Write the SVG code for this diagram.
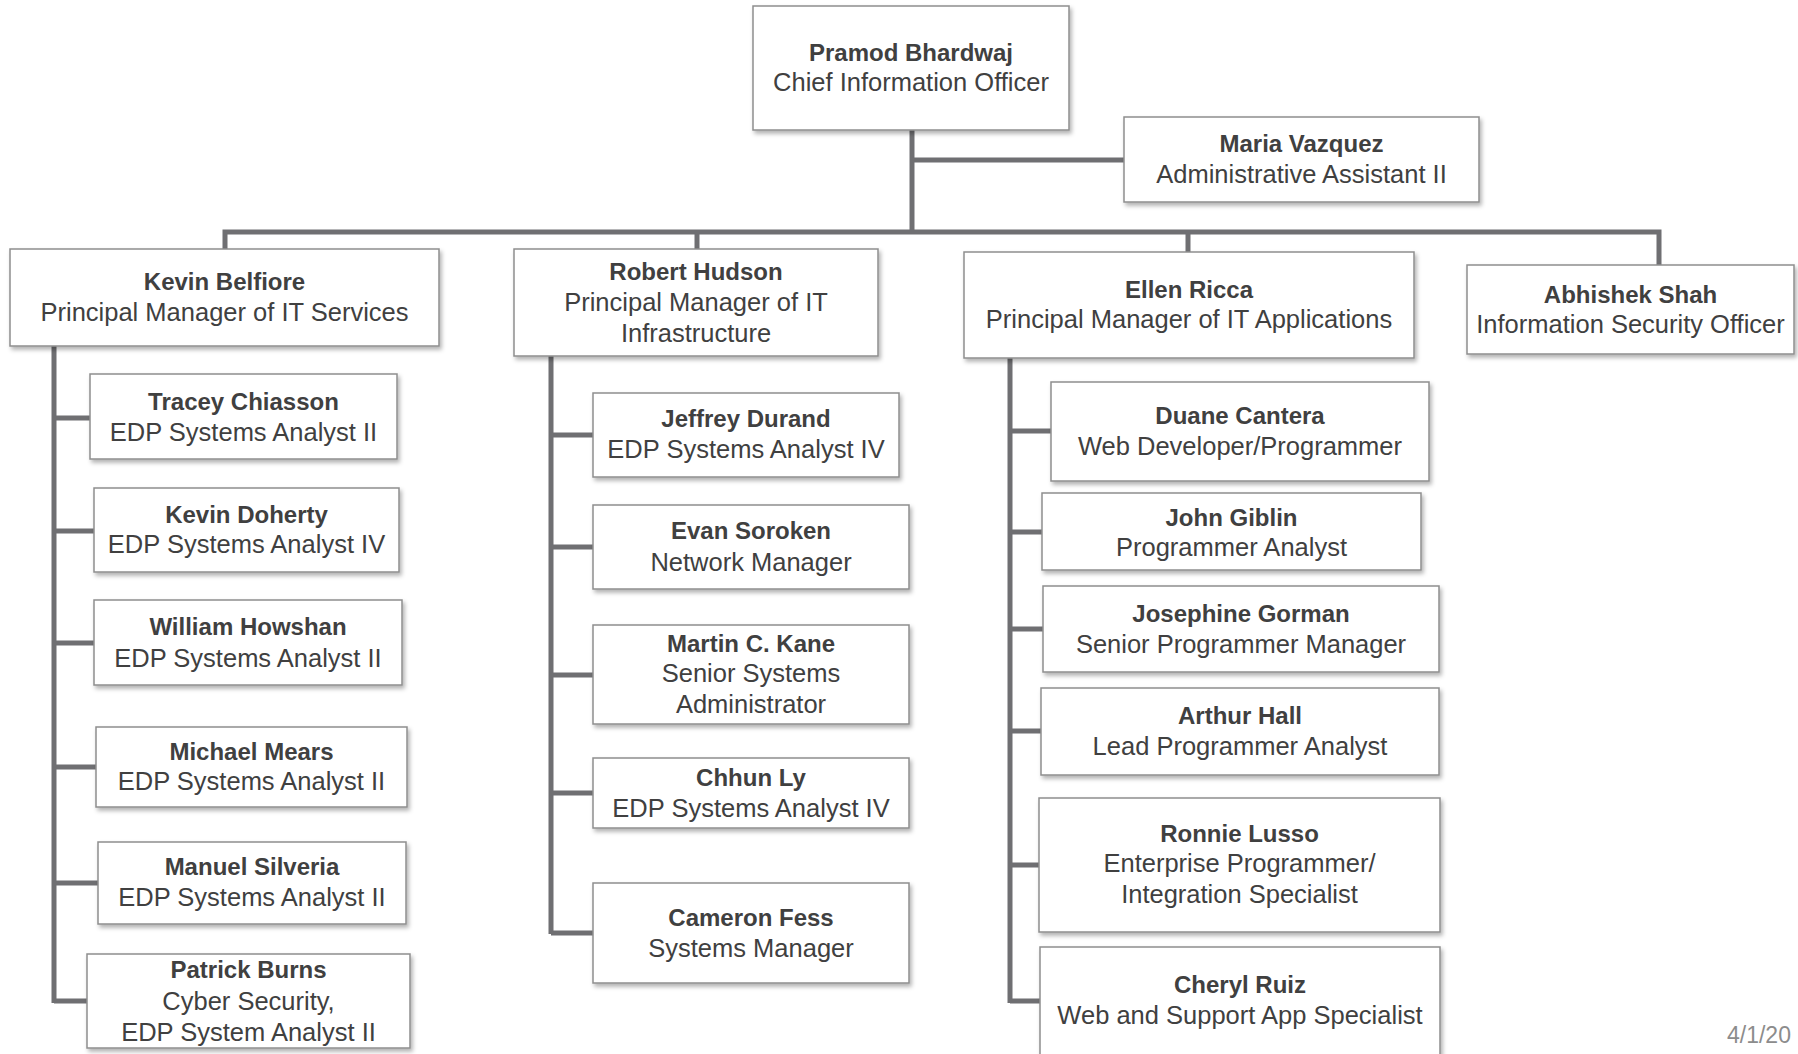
<svg xmlns="http://www.w3.org/2000/svg" width="1798" height="1054" viewBox="0 0 1798 1054">
<style>
.box{fill:#ffffff;stroke:#8e8e8e;stroke-width:1.5;filter:url(#sh)}
.t{font-family:"Liberation Sans",Arial,sans-serif;font-size:25.5px;fill:#404040;text-anchor:middle}
.n{font-weight:bold;font-size:24px}
.c{fill:none;stroke:#6f6f72;stroke-width:5;stroke-linejoin:miter;stroke-linecap:butt}
.d{font-family:"Liberation Sans",Arial,sans-serif;font-size:23px;fill:#8c8c8c}
</style>
<defs>
<filter id="sh" x="-5%" y="-10%" width="115%" height="130%">
<feDropShadow dx="2" dy="3" stdDeviation="2" flood-color="#000" flood-opacity="0.3"/>
</filter>
</defs>
<rect width="1798" height="1054" fill="#ffffff"/>
<g id="connectors">
<path class="c" d="M912,130 V234"/>
<path class="c" d="M912,160 H1124"/>
<path class="c" d="M225,249 V232 H1659 V265"/>
<path class="c" d="M697,232 V249"/>
<path class="c" d="M1188,232 V252"/>
<path class="c" d="M54,346 V1003"/>
<path class="c" d="M54,418 H90 M54,531 H94 M54,643 H94 M54,767 H96 M54,883 H98 M54,1001 H87"/>
<path class="c" d="M551,356 V934"/>
<path class="c" d="M551,435 H593 M551,547 H593 M551,675 H593 M551,793 H593 M551,933 H593"/>
<path class="c" d="M1010,358 V1003"/>
<path class="c" d="M1010,431 H1051 M1010,532 H1042 M1010,629 H1043 M1010,731 H1041 M1010,865 H1039 M1010,1001 H1040"/>
</g>
<g id="cio"><rect class="box" x="753" y="6" width="316" height="124"/><text class="t n" x="911" y="61">Pramod Bhardwaj</text><text class="t" x="911" y="91">Chief Information Officer</text></g>
<g id="maria"><rect class="box" x="1124" y="117" width="355" height="85"/><text class="t n" x="1301.5" y="152">Maria Vazquez</text><text class="t" x="1301.5" y="183">Administrative Assistant II</text></g>
<g id="belfiore"><rect class="box" x="10" y="249" width="429" height="97"/><text class="t n" x="224.5" y="290">Kevin Belfiore</text><text class="t" x="224.5" y="321">Principal Manager of IT Services</text></g>
<g id="hudson"><rect class="box" x="514" y="249" width="364" height="107"/><text class="t n" x="696" y="280">Robert Hudson</text><text class="t" x="696" y="311">Principal Manager of IT</text><text class="t" x="696" y="342">Infrastructure</text></g>
<g id="ricca"><rect class="box" x="964" y="252" width="450" height="106"/><text class="t n" x="1189" y="298">Ellen Ricca</text><text class="t" x="1189" y="328">Principal Manager of IT Applications</text></g>
<g id="shah"><rect class="box" x="1467" y="265" width="327" height="89"/><text class="t n" x="1630.5" y="303">Abhishek Shah</text><text class="t" x="1630.5" y="333">Information Security Officer</text></g>
<g id="chiasson"><rect class="box" x="90" y="374" width="307" height="85"/><text class="t n" x="243.5" y="410">Tracey Chiasson</text><text class="t" x="243.5" y="441">EDP Systems Analyst II</text></g>
<g id="doherty"><rect class="box" x="94" y="488" width="305" height="84"/><text class="t n" x="246.5" y="523">Kevin Doherty</text><text class="t" x="246.5" y="553">EDP Systems Analyst IV</text></g>
<g id="howshan"><rect class="box" x="94" y="600" width="308" height="85"/><text class="t n" x="248" y="635">William Howshan</text><text class="t" x="248" y="667">EDP Systems Analyst II</text></g>
<g id="mears"><rect class="box" x="96" y="727" width="311" height="80"/><text class="t n" x="251.5" y="760">Michael Mears</text><text class="t" x="251.5" y="790">EDP Systems Analyst II</text></g>
<g id="silveria"><rect class="box" x="98" y="842" width="308" height="82"/><text class="t n" x="252" y="875">Manuel Silveria</text><text class="t" x="252" y="906">EDP Systems Analyst II</text></g>
<g id="burns"><rect class="box" x="87" y="954" width="323" height="94"/><text class="t n" x="248.5" y="978">Patrick Burns</text><text class="t" x="248.5" y="1010">Cyber Security,</text><text class="t" x="248.5" y="1041">EDP System Analyst II</text></g>
<g id="durand"><rect class="box" x="593" y="393" width="306" height="84"/><text class="t n" x="746" y="427">Jeffrey Durand</text><text class="t" x="746" y="458">EDP Systems Analyst IV</text></g>
<g id="soroken"><rect class="box" x="593" y="505" width="316" height="84"/><text class="t n" x="751" y="539">Evan Soroken</text><text class="t" x="751" y="571">Network Manager</text></g>
<g id="kane"><rect class="box" x="593" y="625" width="316" height="99"/><text class="t n" x="751" y="652">Martin C. Kane</text><text class="t" x="751" y="682">Senior Systems</text><text class="t" x="751" y="713">Administrator</text></g>
<g id="ly"><rect class="box" x="593" y="758" width="316" height="70"/><text class="t n" x="751" y="786">Chhun Ly</text><text class="t" x="751" y="817">EDP Systems Analyst IV</text></g>
<g id="fess"><rect class="box" x="593" y="883" width="316" height="100"/><text class="t n" x="751" y="926">Cameron Fess</text><text class="t" x="751" y="957">Systems Manager</text></g>
<g id="cantera"><rect class="box" x="1051" y="382" width="378" height="99"/><text class="t n" x="1240" y="424">Duane Cantera</text><text class="t" x="1240" y="455">Web Developer/Programmer</text></g>
<g id="giblin"><rect class="box" x="1042" y="493" width="379" height="77"/><text class="t n" x="1231.5" y="526">John Giblin</text><text class="t" x="1231.5" y="556">Programmer Analyst</text></g>
<g id="gorman"><rect class="box" x="1043" y="586" width="396" height="86"/><text class="t n" x="1241" y="622">Josephine Gorman</text><text class="t" x="1241" y="653">Senior Programmer Manager</text></g>
<g id="hall"><rect class="box" x="1041" y="688" width="398" height="87"/><text class="t n" x="1240" y="724">Arthur Hall</text><text class="t" x="1240" y="755">Lead Programmer Analyst</text></g>
<g id="lusso"><rect class="box" x="1039" y="798" width="401" height="134"/><text class="t n" x="1239.5" y="842">Ronnie Lusso</text><text class="t" x="1239.5" y="872">Enterprise Programmer/</text><text class="t" x="1239.5" y="903">Integration Specialist</text></g>
<g id="ruiz"><rect class="box" x="1040" y="947" width="400" height="115"/><text class="t n" x="1240" y="993">Cheryl Ruiz</text><text class="t" x="1240" y="1024">Web and Support App Specialist</text></g>
<text class="d" x="1727" y="1043">4/1/20</text>
</svg>
